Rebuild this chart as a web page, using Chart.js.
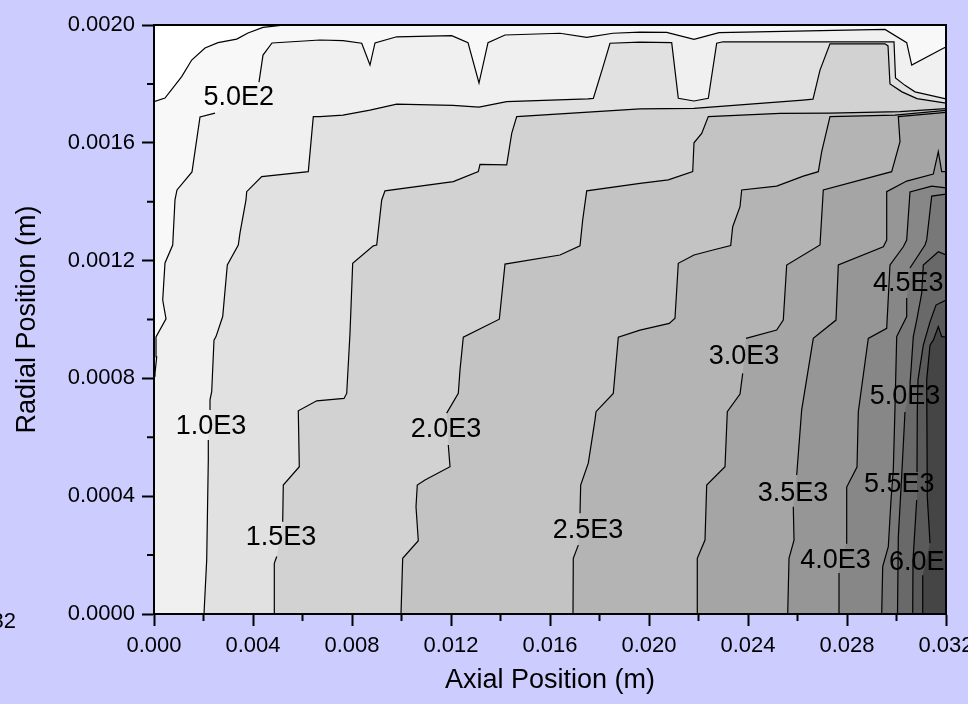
<!DOCTYPE html>
<html>
<head>
<meta charset="utf-8">
<title>Radial / axial contour</title>
<script src="https://cdn.jsdelivr.net/npm/chart.js@4.4.1/dist/chart.umd.min.js"></script>
<style>
  html, body { margin: 0; padding: 0; background: #ccccff; }
  #wrap { width: 968px; height: 704px; }
</style>
</head>
<body>
<div id="wrap"><canvas id="contour" width="968" height="704"></canvas></div>
<script>
// axis ranges and minor ticks
const xMax = 0.032, yMax = 0.002;
const xMinor = [0.002, 0.006, 0.010, 0.014, 0.018, 0.022, 0.026, 0.030];
const yMinor = [0.0002, 0.0006, 0.0010, 0.0014, 0.0018];

// contour lines as [axial, radial] pairs (m)
const cLow = [[0,0.001740],[0.000444,0.001752],[0.001119,0.001825],[0.001523,0.001881],[0.002061,0.001922],
  [0.002586,0.001940],[0.003341,0.001952],[0.003798,0.001973],[0.004404,0.001992],[0.005293,0.002]];
const c500 = [[0,0.000808],[0.00004,0.000817],[0.000109,0.000873],[0.000081,0.000941],[0.000485,0.001002],
  [0.000352,0.001066],[0.000444,0.001192],[0.000756,0.001253],[0.000848,0.001406],[0.000929,0.00144],
  [0.001535,0.001501],[0.001859,0.001688],[0.002465,0.001701],[0.004242,0.001806],[0.004404,0.001898],
  [0.004768,0.001939],[0.006707,0.001949],[0.007636,0.001947],[0.008392,0.001938],[0.008727,0.001864],
  [0.008929,0.001939],[0.009806,0.00196],[0.012028,0.001964],[0.012687,0.00194],[0.013131,0.001803],
  [0.013495,0.00194],[0.014182,0.001966],[0.016404,0.001972],[0.017483,0.001958],[0.018545,0.001972],
  [0.019636,0.001976],[0.020715,0.001975],[0.021818,0.001951],[0.022828,0.001974],[0.029535,0.001985],
  [0.030412,0.00194],[0.030614,0.001864],[0.031891,0.001921],[0.032,0.001925]];
const c1000 = [[0.00202,0],[0.002129,0.000183],[0.002194,0.000523],[0.002194,0.000591],[0.002263,0.000693],
  [0.002263,0.000727],[0.002331,0.000755],[0.002424,0.00093],[0.002505,0.000942],[0.002776,0.00101],
  [0.002962,0.001185],[0.003406,0.001253],[0.003475,0.001294],[0.003717,0.001406],[0.003745,0.001434],
  [0.004352,0.001485],[0.006234,0.001502],[0.006436,0.001689],[0.006707,0.001689],[0.007636,0.001694],
  [0.008727,0.001711],[0.009806,0.001731],[0.012081,0.001727],[0.013131,0.001721],[0.01425,0.00174],
  [0.017535,0.001749],[0.01775,0.001751],[0.018141,0.001858],[0.018424,0.001938],[0.019636,0.001942],
  [0.020917,0.00194],[0.021184,0.001751],[0.021818,0.001742],[0.022396,0.001751],[0.022735,0.001938],
  [0.02299,0.001943],[0.029899,0.001943],[0.02996,0.00182],[0.030343,0.001795],[0.030747,0.001773],
  [0.032,0.001749]];
const c1500 = [[0.004861,0],[0.004861,0.000172],[0.004958,0.000195],[0.0052,0.000313],[0.005224,0.000438],
  [0.005871,0.0005],[0.00583,0.00069],[0.006574,0.000724],[0.007677,0.000732],[0.007786,0.000749],
  [0.007919,0.000953],[0.008028,0.001191],[0.008861,0.00125],[0.008998,0.001253],[0.0092,0.001406],
  [0.009333,0.001437],[0.012093,0.001468],[0.013103,0.001502],[0.013172,0.001527],[0.01425,0.001525],
  [0.014453,0.001632],[0.014654,0.001689],[0.019636,0.001715],[0.021818,0.001717],[0.026222,0.001745],
  [0.026626,0.001748],[0.026909,0.001847],[0.027313,0.001936],[0.029535,0.001936],[0.029657,0.001929],
  [0.029737,0.0018],[0.030222,0.001773],[0.030828,0.00175],[0.032,0.001735]];
const c2000 = [[0.00998,0],[0.010048,0.000189],[0.010679,0.000249],[0.010586,0.000364],[0.010638,0.000438],
  [0.010949,0.000455],[0.01196,0.0005],[0.011891,0.000574],[0.011826,0.000682],[0.012295,0.000749],
  [0.012364,0.000829],[0.012497,0.00094],[0.013952,0.001001],[0.014182,0.001188],[0.016404,0.001219],
  [0.017212,0.00125],[0.017321,0.001338],[0.017483,0.001437],[0.019636,0.001462],[0.02078,0.001474],
  [0.021766,0.001502],[0.021818,0.0016],[0.022129,0.001632],[0.022396,0.001689],[0.025293,0.0017],
  [0.027313,0.001701],[0.030141,0.001706],[0.032,0.001716]];
const c2500 = [[0.016929,0],[0.016941,0.000189],[0.017143,0.000234],[0.017212,0.000342],[0.01724,0.000438],
  [0.017547,0.000512],[0.017818,0.000659],[0.017859,0.000687],[0.018557,0.000749],[0.01876,0.00094],
  [0.019636,0.000964],[0.02082,0.000987],[0.02105,0.001004],[0.021184,0.001191],[0.021818,0.001219],
  [0.022586,0.001236],[0.023301,0.001251],[0.023382,0.001315],[0.023677,0.001383],[0.023745,0.00144],
  [0.025159,0.001453],[0.026234,0.001487],[0.02684,0.001502],[0.026978,0.00157],[0.027313,0.001689],
  [0.02994,0.001694],[0.032,0.00171]];
const c3000 = [[0.021951,0],[0.021951,0.000189],[0.022263,0.000251],[0.022331,0.000438],[0.023071,0.0005],
  [0.023164,0.000687],[0.023677,0.000747],[0.023786,0.000817],[0.023919,0.000936],[0.025159,0.000964],
  [0.025426,0.000998],[0.025563,0.001185],[0.026909,0.001253],[0.027042,0.00144],[0.029806,0.001502],
  [0.030141,0.001604],[0.030073,0.001689],[0.032,0.001703]];
const c3500 = [[0.025604,0],[0.025657,0.000189],[0.025859,0.000251],[0.02583,0.000364],[0.025968,0.000472],
  [0.026169,0.000693],[0.026638,0.000936],[0.027556,0.000998],[0.027649,0.001185],[0.029467,0.001247],
  [0.029604,0.00127],[0.029604,0.001434],[0.030412,0.00147],[0.031487,0.001494],[0.031689,0.00157],
  [0.031826,0.001502],[0.032,0.001502]];
const c4000 = [[0.027677,0],[0.027677,0.000139],[0.02796,0.000241],[0.027988,0.000431],[0.028404,0.000499],
  [0.028457,0.000687],[0.02886,0.000936],[0.029604,0.00097],[0.029737,0.001185],[0.030275,0.001247],
  [0.030412,0.00127],[0.030545,0.001433],[0.031422,0.001453],[0.032,0.001447]];
const c4500 = [[0.029402,0],[0.029443,0.000161],[0.029669,0.000229],[0.029778,0.000387],[0.029871,0.000489],
  [0.02994,0.000704],[0.030008,0.000942],[0.030412,0.00101],[0.030412,0.001073],[0.030545,0.001175],
  [0.031152,0.001253],[0.03122,0.00127],[0.031422,0.001419],[0.032,0.001426]];
const c5000 = [[0.03004,0],[0.030073,0.000261],[0.030222,0.000489],[0.030343,0.000686],[0.030545,0.000778],
  [0.030679,0.000942],[0.030816,0.000998],[0.031018,0.001089],[0.031083,0.001185],[0.031689,0.00123],
  [0.032,0.001219]];
const c5500 = [[0.030655,0],[0.030667,0.000183],[0.030816,0.000387],[0.030828,0.000482],[0.03084,0.000686],
  [0.030869,0.000795],[0.031083,0.000913],[0.031354,0.000992],[0.031596,0.001049],[0.032,0.001066]];
const c6000 = [[0.031059,0],[0.031059,0.000132],[0.031354,0.00024],[0.031244,0.000398],[0.03122,0.000795],
  [0.031354,0.000913],[0.031487,0.00093],[0.031689,0.000976],[0.031826,0.000942],[0.032,0.000941]];

const contours = [cLow, c500, c1000, c1500, c2000, c2500, c3000, c3500, c4000, c4500, c5000, c5500, c6000];

// contour labels: text, position, and the segment of the line hidden under the text
const labelText = ['', '5.0E2', '1.0E3', '1.5E3', '2.0E3', '2.5E3', '3.0E3', '3.5E3', '4.0E3', '4.5E3', '5.0E3', '5.5E3', '6.0E3'];
const labelPos = [null, [0.003422,0.001755], [0.002303,0.000636], [0.005131,0.000258], [0.011798,0.000625],
  [0.017535,0.000285], [0.023838,0.000874], [0.025818,0.00041], [0.027535,0.000183], [0.030477,0.001123],
  [0.030343,0.000738], [0.030113,0.000438], [0.031123,0.000175]];
const labelGap = [-1, 12, 3, 2, 7, 2, 7, 3, 1, 8, 3, 2, 1];

// grey for the region hotter than each line
const bandFill = ['#f8f8f8', '#f0f0f0', '#e1e1e1', '#d2d2d2', '#c3c3c3', '#b4b4b4', '#a5a5a5',
  '#969696', '#878787', '#787878', '#696969', '#5a5a5a', '#454545'];

const FONT = "'Liberation Sans', Arial, Helvetica, sans-serif";

// close a line into the region below/right of it, going round the plot corners
function closeShape(pts) {
  const out = pts.map(p => ({x: p[0], y: p[1]}));
  const first = pts[0], last = pts[pts.length - 1];
  if (last[1] >= yMax) out.push({x: xMax, y: yMax});
  out.push({x: xMax, y: 0});
  if (first[0] <= 0) out.push({x: 0, y: 0});
  return out;
}

// the line itself, broken where its label sits
function linePoints(pts, gap) {
  const out = [];
  pts.forEach((p, i) => {
    out.push({x: p[0], y: p[1]});
    if (i === gap) out.push({x: NaN, y: NaN});
  });
  return out;
}

const lineSets = contours.map((pts, i) => ({
  data: linePoints(pts, labelGap[i]),
  showLine: true, fill: false, spanGaps: false,
  borderColor: '#000', borderWidth: 1.2,
  pointRadius: 0, pointHoverRadius: 0
}));

// fills: the last one is painted first, so lowest level goes last
const fillSets = contours.map((pts, i) => ({
  data: closeShape(pts),
  showLine: true, fill: 'shape',
  backgroundColor: bandFill[i],
  borderColor: 'rgba(0,0,0,0)', borderWidth: 0,
  pointRadius: 0, pointHoverRadius: 0
})).reverse();

const plotBox = {
  id: 'plotBox',
  beforeDraw(chart) {
    const {ctx, chartArea: a} = chart;
    ctx.save();
    ctx.fillStyle = '#ccccff';
    ctx.fillRect(0, 0, chart.width, chart.height);
    ctx.fillStyle = '#ffffff';
    ctx.fillRect(a.left, a.top, a.right - a.left, a.bottom - a.top);
    ctx.restore();
  },
  afterDatasetsDraw(chart) {
    const {ctx, chartArea: a, scales: {x, y}} = chart;
    ctx.save();
    ctx.beginPath();
    ctx.rect(a.left, a.top, a.right - a.left, a.bottom - a.top);
    ctx.clip();
    ctx.fillStyle = '#000';
    ctx.font = '27px ' + FONT;
    ctx.textAlign = 'center';
    ctx.textBaseline = 'middle';
    labelText.forEach((t, i) => {
      if (!t) return;
      ctx.fillText(t, x.getPixelForValue(labelPos[i][0]), y.getPixelForValue(labelPos[i][1]));
    });
    ctx.restore();

    ctx.save();
    ctx.strokeStyle = '#000';
    ctx.lineWidth = 2;
    ctx.strokeRect(a.left, a.top, a.right - a.left, a.bottom - a.top);
    ctx.restore();
  },
  afterDraw(chart) {
    const {ctx, chartArea: a, scales: {x, y}} = chart;
    ctx.save();
    ctx.strokeStyle = '#000';
    ctx.lineWidth = 2;
    ctx.beginPath();
    xMinor.forEach(v => {
      const px = x.getPixelForValue(v);
      ctx.moveTo(px, a.bottom);
      ctx.lineTo(px, a.bottom + 7);
    });
    yMinor.forEach(v => {
      const py = y.getPixelForValue(v);
      ctx.moveTo(a.left, py);
      ctx.lineTo(a.left - 7, py);
    });
    ctx.stroke();
    // stray, cut-off tick label at the far left of the original
    ctx.fillStyle = '#000';
    ctx.font = '22px ' + FONT;
    ctx.textAlign = 'right';
    ctx.textBaseline = 'middle';
    ctx.fillText('0.032', 16, 622);
    ctx.restore();
  }
};

function initContour() {
  Chart.defaults.font.family = FONT;
  Chart.defaults.color = '#000';
  const ctx = document.getElementById('contour').getContext('2d');
  new Chart(ctx, {
    type: 'scatter',
    data: { datasets: [...lineSets, ...fillSets] },
    options: {
      responsive: false,
      animation: false,
      events: [],
      layout: { padding: { left: 0, right: 22, top: 25, bottom: 0 } },
      plugins: {
        legend: { display: false },
        tooltip: { enabled: false },
        filler: { drawTime: 'beforeDatasetsDraw' }
      },
      scales: {
        x: {
          type: 'linear', min: 0, max: xMax,
          grid: { drawOnChartArea: false, tickLength: 12, tickWidth: 2, tickColor: '#000' },
          border: { display: true, color: '#000', width: 2 },
          ticks: {
            stepSize: 0.004, autoSkip: false, maxRotation: 0, minRotation: 0,
            padding: 7, font: { size: 22 }, color: '#000',
            callback: v => v.toFixed(3)
          },
          title: { display: true, text: 'Axial Position (m)', font: { size: 27 }, color: '#000',
                   padding: { top: 0, bottom: 7 } },
          afterFit: s => { s.height = 90; s.paddingLeft = 0; s.paddingRight = 0; }
        },
        y: {
          type: 'linear', min: 0, max: yMax,
          grid: { drawOnChartArea: false, tickLength: 12, tickWidth: 2, tickColor: '#000' },
          border: { display: true, color: '#000', width: 2 },
          ticks: {
            stepSize: 0.0004, autoSkip: false,
            padding: 7, font: { size: 22 }, color: '#000',
            callback: v => v.toFixed(4)
          },
          title: { display: true, text: 'Radial Position (m)', font: { size: 27 }, color: '#000',
                   padding: { top: 11, bottom: 0 } },
          afterFit: s => { s.width = 154; s.paddingTop = 0; s.paddingBottom = 0; }
        }
      }
    },
    plugins: [plotBox]
  });
}

document.addEventListener('DOMContentLoaded', initContour);
</script>
</body>
</html>
